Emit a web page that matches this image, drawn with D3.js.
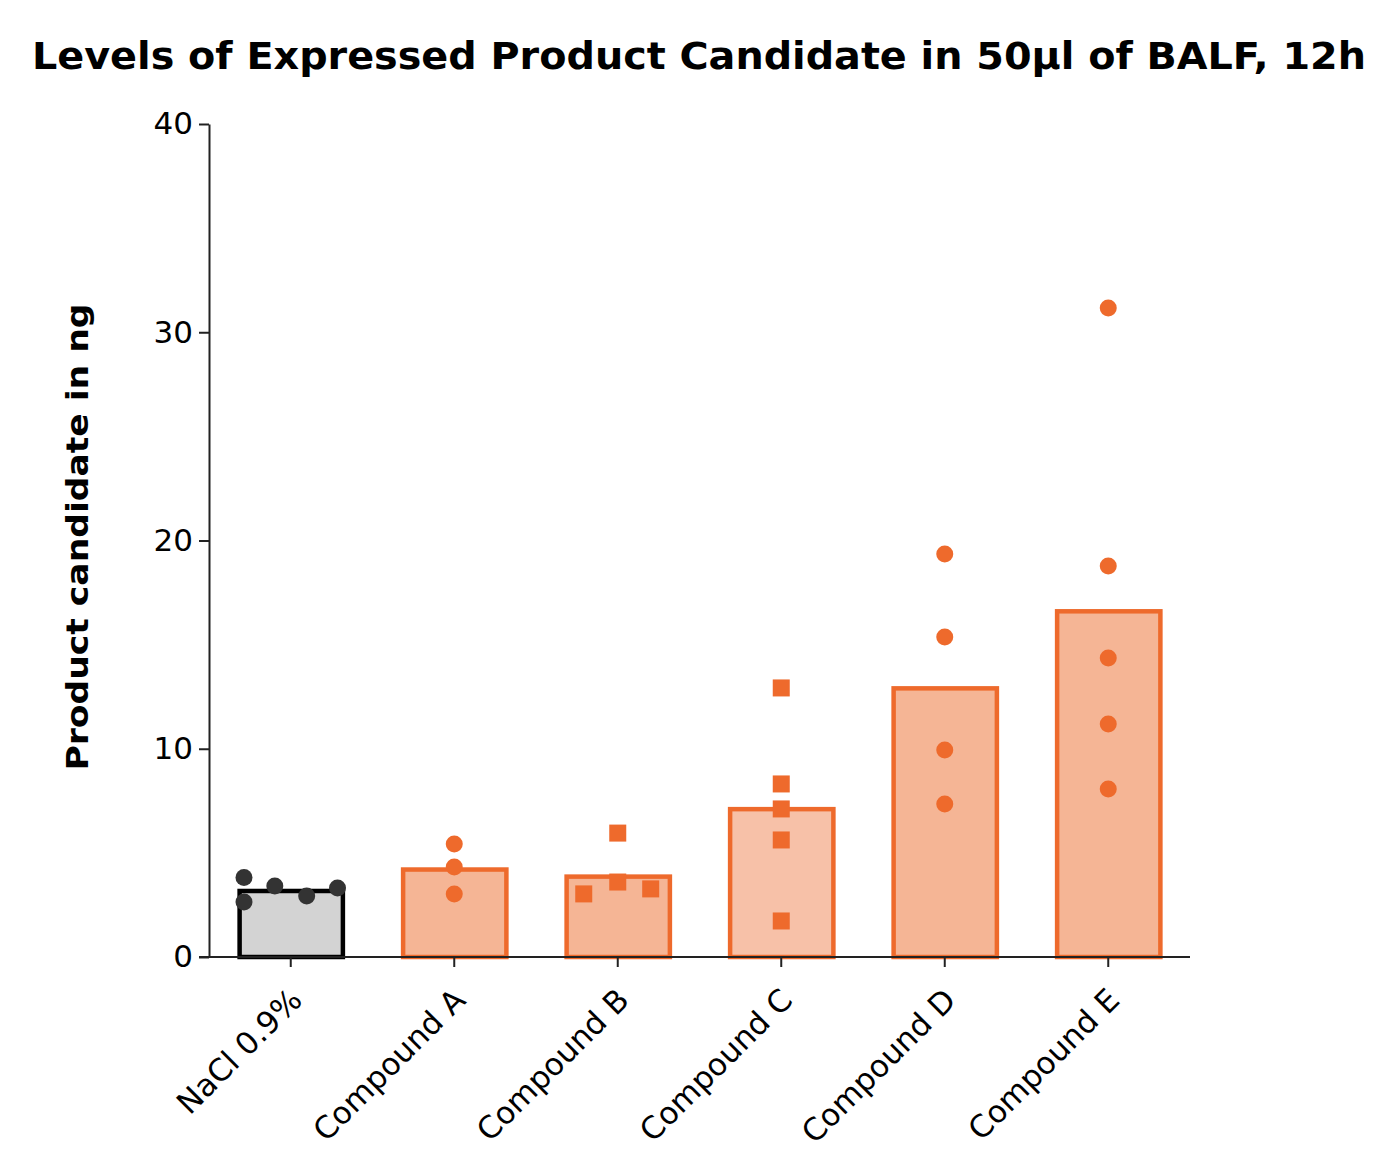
<!DOCTYPE html>
<html>
<head>
<meta charset="utf-8">
<script src="https://cdn.jsdelivr.net/npm/d3@7"></script>
<style>
  html, body { margin: 0; padding: 0; background: #fff; }
  svg { display: block; }
  text { font-family: "DejaVu Sans", Verdana, sans-serif; }
</style>
</head>
<body>
<svg id="chart" width="1400" height="1169"></svg>
<script>
// ---- data ----
const categories = ["NaCl 0.9%", "Compound A", "Compound B", "Compound C", "Compound D", "Compound E"];
const barValues = [3.17, 4.2, 3.86, 7.1, 12.9, 16.6];
const pointsNaCl = [3.82, 2.64, 3.41, 2.93, 3.31];
const pointsA = [5.43, 4.32, 3.03];
const pointsB = [5.95, 3.6, 3.03, 3.27];
const pointsC = [12.92, 8.31, 7.11, 5.62, 1.73];
const pointsD = [19.35, 15.37, 9.94, 7.35];
const pointsE = [31.16, 18.78, 14.36, 11.19, 8.07];
// horizontal jitter (fraction of bar width)
const jitterNaCl = [-0.44, -0.44, -0.15, 0.15, 0.44];
const jitterB = [0, 0, -0.32, 0.31];
const yTicks = [0, 10, 20, 30, 40];
const title = "Levels of Expressed Product Candidate in 50µl of BALF, 12h";
const yTitle = "Product candidate in ng";

const groups = [
  {pts: pointsNaCl, jit: jitterNaCl, shape: "circle", fill: "#d3d3d3", stroke: "#000000", dot: "#333333"},
  {pts: pointsA, jit: null, shape: "circle", fill: "#f5b595", stroke: "#ee6a2c", dot: "#ee6a2c"},
  {pts: pointsB, jit: jitterB, shape: "square", fill: "#f5b595", stroke: "#ee6a2c", dot: "#ee6a2c"},
  {pts: pointsC, jit: null, shape: "square", fill: "#f7c1a8", stroke: "#ee6a2c", dot: "#ee6a2c"},
  {pts: pointsD, jit: null, shape: "circle", fill: "#f5b595", stroke: "#ee6a2c", dot: "#ee6a2c"},
  {pts: pointsE, jit: null, shape: "circle", fill: "#f5b595", stroke: "#ee6a2c", dot: "#ee6a2c"}
];

// ---- layout ----
const svg = d3.select("#chart");
const mLeft = 209, mRight = 1190, mTop = 124, mBottom = 957;

const x = d3.scaleBand().domain(categories).range([mLeft, mRight]).paddingInner(0.35).paddingOuter(0.175);
const y = d3.scaleLinear().domain([0, 40]).range([mBottom, mTop]);

// title
svg.append("text")
  .attr("x", 699).attr("y", 69)
  .attr("text-anchor", "middle")
  .attr("font-weight", "bold")
  .attr("font-size", 37)
  .attr("textLength", 1334).attr("lengthAdjust", "spacingAndGlyphs")
  .attr("fill", "#000")
  .text(title);

// y axis title
svg.append("text")
  .attr("transform", `translate(88, 537) rotate(-90)`)
  .attr("text-anchor", "middle")
  .attr("font-weight", "bold")
  .attr("font-size", 30)
  .attr("textLength", 467).attr("lengthAdjust", "spacingAndGlyphs")
  .attr("fill", "#000")
  .text(yTitle);

// bars
const bw = x.bandwidth();
svg.append("g").selectAll("rect")
  .data(categories)
  .join("rect")
  .attr("x", d => x(d) + 2)
  .attr("y", (d, i) => y(barValues[i]))
  .attr("width", bw - 3)
  .attr("height", (d, i) => y(0) - y(barValues[i]))
  .attr("fill", (d, i) => groups[i].fill)
  .attr("stroke", (d, i) => groups[i].stroke)
  .attr("stroke-width", 4.5);

// points
const pg = svg.append("g");
groups.forEach((g, i) => {
  const cx = x(categories[i]) + bw / 2;
  g.pts.forEach((v, j) => {
    const off = g.jit ? g.jit[j] * bw : 0;
    if (g.shape === "circle") {
      pg.append("circle")
        .attr("cx", cx + off).attr("cy", y(v)).attr("r", 8.5)
        .attr("fill", g.dot);
    } else {
      pg.append("rect")
        .attr("x", cx + off - 8.5).attr("y", y(v) - 8.5)
        .attr("width", 17).attr("height", 17)
        .attr("fill", g.dot);
    }
  });
});

// y axis
const yAxis = svg.append("g")
  .attr("transform", `translate(${mLeft},0)`)
  .call(d3.axisLeft(y).tickValues(yTicks).tickSize(10).tickPadding(6).tickSizeOuter(0));
yAxis.select(".domain").attr("stroke", "#222").attr("stroke-width", 2);
yAxis.selectAll(".tick line").attr("stroke", "#222").attr("stroke-width", 2);
yAxis.selectAll(".tick text")
  .attr("font-size", 31)
  .attr("font-family", "DejaVu Sans, Verdana, sans-serif")
  .attr("fill", "#000");

// x axis
const xAxis = svg.append("g")
  .attr("transform", `translate(0,${mBottom})`)
  .call(d3.axisBottom(x).tickSize(10).tickSizeOuter(0));
xAxis.select(".domain").attr("stroke", "#222").attr("stroke-width", 2)
  .attr("d", `M${mLeft - 10},0H${mRight}`);
xAxis.selectAll(".tick line").attr("stroke", "#222").attr("stroke-width", 2);
xAxis.selectAll(".tick text")
  .attr("font-size", 31)
  .attr("font-family", "DejaVu Sans, Verdana, sans-serif")
  .attr("fill", "#000")
  .attr("text-anchor", "end")
  .attr("x", 0).attr("y", 0).attr("dy", 0)
  .attr("transform", "translate(13,45) rotate(-45)");
</script>
</body>
</html>
